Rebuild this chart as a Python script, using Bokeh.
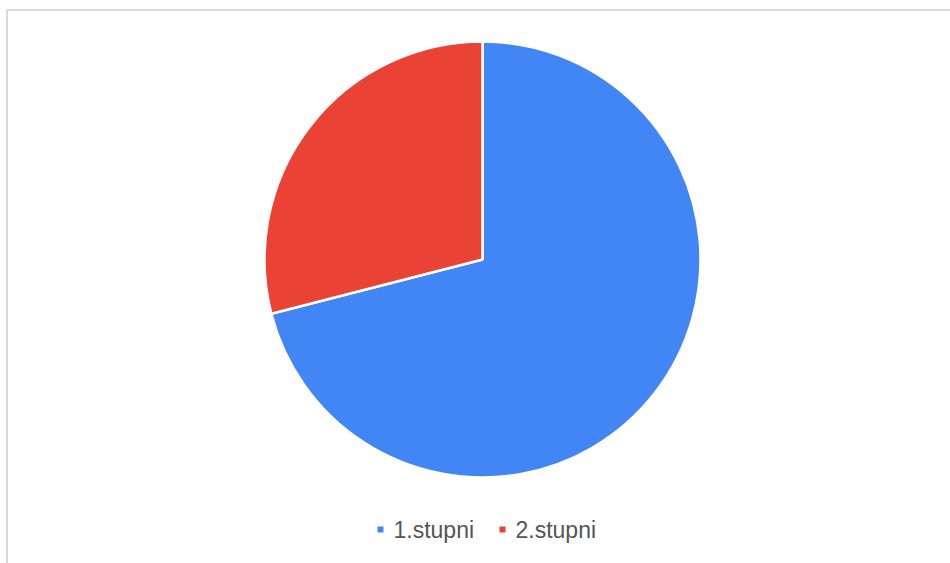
import math
from bokeh.plotting import figure
from bokeh.models import Range1d, ColumnDataSource
from bokeh.core.properties import value
from bokeh.embed import file_html
from bokeh.resources import INLINE

categories = ["1.stupni", "2.stupni"]
values = [71, 29]
colors = ["#4285f4", "#ea4335"]

W, H = 950, 563
p = figure(width=W, height=H, output_backend="svg", toolbar_location=None,
           x_range=Range1d(0, W), y_range=Range1d(0, H), min_border=0)
p.axis.visible = False
p.grid.visible = False
p.outline_line_color = None
p.background_fill_color = "white"
p.border_fill_color = "white"

# light frame (left and top edges visible in reference)
p.segment(x0=[6.5, 6], y0=[0, H - 9.5], x1=[6.5, W], y1=[H - 9.5, H - 9.5],
          line_color="#d9d9d9", line_width=2)

total = sum(values)
starts, ends = [], []
cum = 0.0
for v in values:
    starts.append(math.pi / 2 - cum / total * 2 * math.pi)
    cum += v
    ends.append(math.pi / 2 - cum / total * 2 * math.pi)

src = ColumnDataSource(dict(cat=categories, val=values, start=starts, end=ends, color=colors))
cx, cy, r = 482, 304, 218
p.wedge(x=cx, y=cy, radius=r, start_angle="start", end_angle="end", direction="clock",
        fill_color="color", line_color="white", line_width=2.5, source=src)

# legend
lx = [380, 502]
ly = 34
p.scatter(x=lx, y=[ly, ly], marker="square", size=6, fill_color=colors, line_color=None)
p.text(x=[x + 13 for x in lx], y=[ly, ly], text=categories, text_font=value("Liberation Sans"),
       text_font_size="23px", text_color="#555555", text_baseline="middle", text_align="left")

open("out.html", "w").write(file_html(p, INLINE))
